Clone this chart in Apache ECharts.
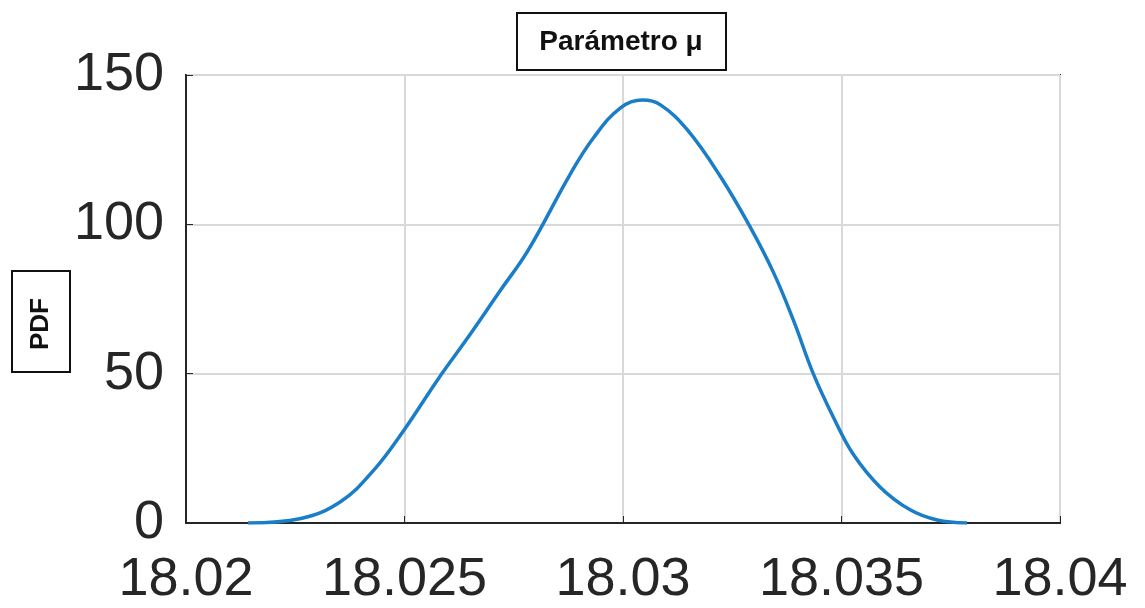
<!DOCTYPE html>
<html><head><meta charset="utf-8">
<script src="https://cdn.jsdelivr.net/npm/echarts@6/dist/echarts.min.js"></script>
<style>html,body{margin:0;padding:0;background:#fff}#c{width:1145px;height:608px}</style>
</head><body><div id="c"></div>
<script>
const xValues = [18.021417,18.022629,18.023543,18.024297,18.024983,18.02576,18.026446,18.0272,18.027817,18.0288,18.029326,18.029943,18.030446,18.030857,18.031474,18.032229,18.032914,18.03344,18.033897,18.034354,18.034811,18.035269,18.035886,18.036571,18.037189,18.037874];
const pdfValues = [0,1.5,7.2,17.7,31,48,62,78,91,117,129,139,141.6,140,131.6,116,99,84,68,50,35.5,23,12,4.4,1,0];
const xTicks = [18.02,18.025,18.03,18.035,18.04];
const yTicks = [0,50,100,150];
const titleText = 'Parámetro μ';
const yLabel = 'PDF';

const chart = echarts.init(document.getElementById('c'));
chart.setOption({
  animation:false,
  backgroundColor:'#fff',
  grid:{left:186,right:85,top:75,bottom:85,show:true,borderColor:'#262626',borderWidth:2,containLabel:false},
  xAxis:{type:'value',min:xTicks[0],max:xTicks[xTicks.length-1],interval:0.005,
    axisLine:{show:true,lineStyle:{color:'#262626',width:2}},
    axisTick:{show:true,inside:true,length:7,lineStyle:{color:'#262626'}},
    splitLine:{show:true,lineStyle:{color:'#d9d9d9',width:2}},
    axisLabel:{fontFamily:'Liberation Sans',fontSize:54,color:'#262626',margin:30,
      formatter:v=>String(parseFloat(v.toFixed(3)))}},
  yAxis:{type:'value',min:yTicks[0],max:yTicks[yTicks.length-1],interval:50,
    axisLine:{show:true,lineStyle:{color:'#262626',width:2}},
    axisTick:{show:true,inside:true,length:7,lineStyle:{color:'#262626'}},
    splitLine:{show:true,lineStyle:{color:'#d9d9d9',width:2}},
    axisLabel:{fontFamily:'Liberation Sans',fontSize:54,color:'#262626',margin:22}},
  series:[{type:'line',smooth:0.4,showSymbol:false,
    data:xValues.map((x,i)=>[x,pdfValues[i]]),
    lineStyle:{color:'#1a7dc8',width:3.5}}],
  graphic:[
    {type:'rect',x:517,y:13,shape:{width:209,height:57},style:{fill:'#fff',stroke:'#111',lineWidth:2}},
    {type:'text',x:621,y:42,style:{text:titleText,font:'bold 28px "Liberation Sans"',fill:'#111',align:'center',verticalAlign:'middle'}},
    {type:'rect',x:12,y:271,shape:{width:58,height:101},style:{fill:'#fff',stroke:'#111',lineWidth:2}},
    {type:'text',x:41,y:324,rotation:Math.PI/2,style:{text:yLabel,font:'bold 26px "Liberation Sans"',fill:'#111',align:'center',verticalAlign:'middle'}}
  ]
});
</script></body></html>
